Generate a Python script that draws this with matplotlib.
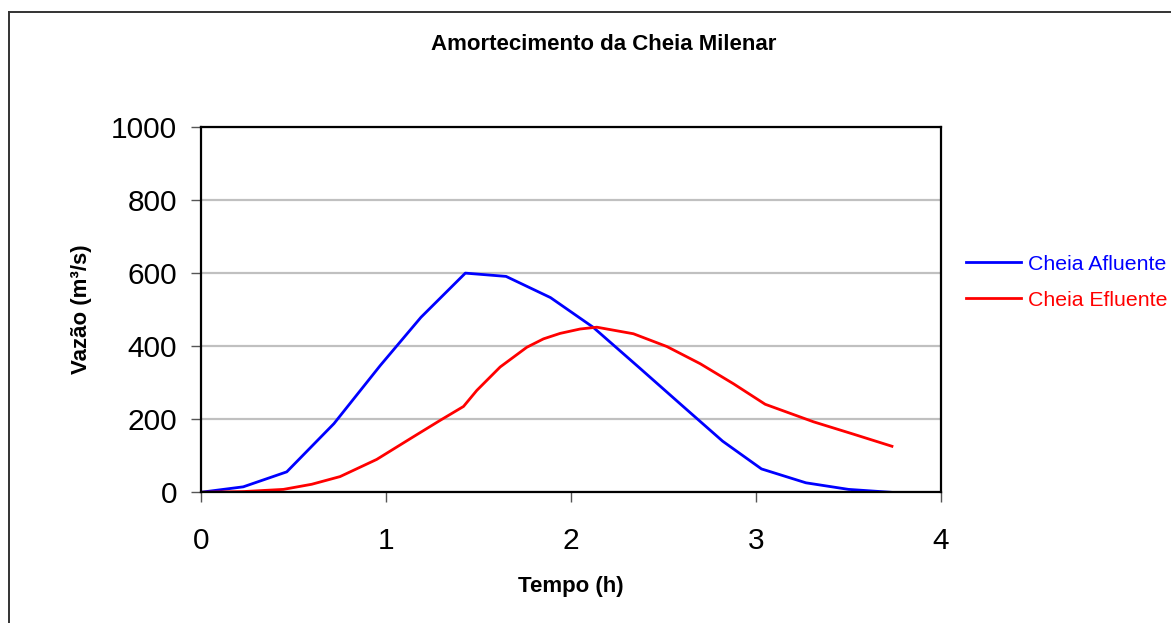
"""
Amortecimento da Cheia Milenar - hidrograma afluente x efluente
"""

import matplotlib
matplotlib.use("Agg")
import matplotlib.pyplot as plt
from matplotlib.lines import Line2D

plt.rcParams["font.family"] = ["Liberation Sans", "DejaVu Sans"]

# cheia afluente: tempo (h) e vazão (m³/s)
tempo_afl = [0.0, 0.23, 0.465, 0.72, 0.97, 1.19, 1.43, 1.65, 1.89, 2.12,
             2.37, 2.6, 2.82, 3.03, 3.27, 3.5, 3.73]
cheia_afluente = [0, 15, 56, 188, 347, 479, 600, 591, 533, 452,
                  341, 238, 140, 64, 26, 8, 0]

# cheia efluente: tempo (h) e vazão (m³/s)
tempo_efl = [0.0, 0.23, 0.447, 0.6, 0.753, 0.951, 1.149, 1.294, 1.42, 1.492,
             1.618, 1.762, 1.852, 1.942, 2.05, 2.14, 2.338, 2.519, 2.699,
             2.879, 3.05, 3.311, 3.528, 3.735]
cheia_efluente = [0, 2, 8, 22, 43, 90, 152, 197, 235, 279,
                  343, 397, 420, 435, 447, 452, 434, 399, 352,
                  297, 241, 193, 159, 126]

x_ticks = [0, 1, 2, 3, 4]
y_ticks = [0, 200, 400, 600, 800, 1000]

W, H = 1171, 623
fig = plt.figure(figsize=(W / 100, H / 100), dpi=100)

# moldura externa (só topo e esquerda aparecem)
fig.add_artist(Line2D([9 / W, 1.0], [1 - 11.5 / H, 1 - 11.5 / H],
                      transform=fig.transFigure, color="#333333", linewidth=1.4))
fig.add_artist(Line2D([9 / W, 9 / W], [0.0, 1 - 11.5 / H],
                      transform=fig.transFigure, color="#333333", linewidth=1.4))

left, right, top, bottom = 200.7, 941, 127, 492.3
ax = fig.add_axes([left / W, 1 - bottom / H, (right - left) / W, (bottom - top) / H])

ax.plot(tempo_afl, cheia_afluente, color="#0000ff", linewidth=2.0, label="Cheia Afluente",
        solid_joinstyle="round")
ax.plot(tempo_efl, cheia_efluente, color="#ff0000", linewidth=2.0, label="Cheia Efluente",
        solid_joinstyle="round")

ax.set_xlim(0, 4)
ax.set_ylim(0, 1000)
ax.set_xticks(x_ticks)
ax.set_yticks(y_ticks)
ax.tick_params(axis="both", labelsize=21.5, length=7, width=1, color="#555555",
               direction="out")
ax.tick_params(axis="x", pad=18)
ax.tick_params(axis="y", pad=10)
ax.yaxis.grid(True, color="#c0c0c0", linewidth=1.6)
ax.set_axisbelow(True)
for sp in ax.spines.values():
    sp.set_linewidth(1.6)
    sp.set_color("black")

ax.set_xlabel("Tempo (h)", fontsize=16, fontweight="bold", labelpad=15)
ax.set_ylabel("Vazão (m³/s)", fontsize=16, fontweight="bold", labelpad=14)

fig.text(604 / W, 1 - 45 / H, "Amortecimento da Cheia Milenar", fontsize=16,
         fontweight="bold", ha="center", va="center")

fig.legend(loc="center left", bbox_to_anchor=(966 / W, 1 - 282 / H),
           frameon=False, fontsize=15.3, handlelength=2.6, handletextpad=0.3,
           labelspacing=0.8, borderpad=0, borderaxespad=0, labelcolor="linecolor")

fig.savefig("out.png", dpi=100)
